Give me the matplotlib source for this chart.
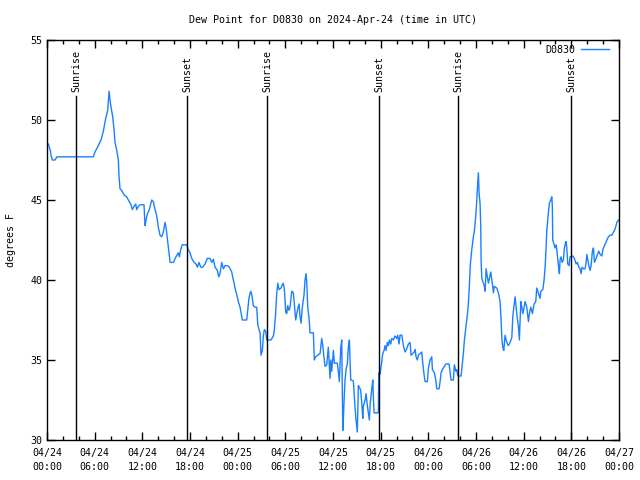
import matplotlib
matplotlib.use("Agg")
import matplotlib.pyplot as plt
from matplotlib.ticker import MultipleLocator

# hours since 2024-04-24 00:00 UTC
hours = [
    0.16, 0.29, 0.42, 0.50, 0.67, 1.01, 1.26, 5.83, 6.04, 6.46, 6.80, 7.09, 7.39, 7.64, 7.81, 7.93,
    8.06, 8.27, 8.44, 8.56, 8.78, 8.98, 9.06, 9.19, 9.40, 9.73, 10.03, 10.24, 10.58, 10.74, 10.95,
    11.17, 11.29, 11.49, 11.71, 12.21, 12.34, 12.46, 12.63, 12.88, 13.18, 13.38, 13.60, 13.81,
    14.01, 14.23, 14.44, 14.64, 14.86, 14.98, 15.15, 15.36, 15.49, 15.90, 16.24, 16.53, 16.66,
    16.83, 17.03, 17.59, 17.79, 18.00, 18.22, 18.51, 18.76, 18.92, 19.14, 19.35, 19.60, 19.89,
    20.18, 20.52, 20.74, 20.94, 21.15, 21.44, 21.62, 21.78, 21.99, 22.20, 22.41, 22.70, 22.95,
    23.25, 23.46, 23.67, 23.88, 24.08, 24.30, 24.51, 24.59, 25.14, 25.27, 25.43, 25.64, 25.77,
    25.97, 26.19, 26.40, 26.53, 26.69, 26.82, 26.94, 27.11, 27.23, 27.36, 27.53, 27.66, 28.20,
    28.49, 28.62, 28.79, 28.92, 29.05, 29.21, 29.46, 29.62, 29.75, 29.88, 30.05, 30.18, 30.30,
    30.47, 30.59, 30.81, 31.01, 31.13, 31.31, 31.44, 31.56, 31.73, 31.85, 31.98, 32.14, 32.36,
    32.48, 32.61, 32.70, 32.82, 32.99, 33.11, 33.53, 33.65, 33.83, 34.08, 34.37, 34.58, 34.71,
    34.79, 35.00, 35.21, 35.41, 35.63, 35.72, 35.84, 36.05, 36.17, 36.55, 36.67, 36.80, 36.98,
    37.10, 37.23, 37.30, 37.43, 37.52, 37.64, 37.81, 37.93, 38.06, 38.15, 38.23, 38.56, 38.65,
    38.78, 38.90, 39.06, 39.19, 39.32, 39.49, 39.62, 39.75, 39.82, 40.04, 40.16, 40.33, 40.45,
    40.58, 40.67, 40.88, 41.01, 41.08, 41.17, 41.71, 41.76, 41.92, 42.14, 42.26, 42.43, 42.55,
    42.68, 42.84, 42.97, 43.10, 43.27, 43.40, 43.60, 43.81, 44.03, 44.15, 44.32, 44.44, 44.66,
    44.86, 45.07, 45.28, 45.49, 45.70, 45.83, 46.04, 46.21, 46.33, 46.46, 46.62, 46.75, 46.96,
    47.17, 47.30, 47.46, 47.59, 47.88, 48.01, 48.13, 48.22, 48.43, 48.51, 48.76, 48.94, 49.06,
    49.35, 49.48, 49.60, 49.77, 50.02, 50.20, 50.61, 50.74, 50.86, 51.15, 51.28, 51.46, 51.58,
    51.71, 52.12, 52.29, 52.41, 52.54, 52.71, 52.88, 52.97, 53.04, 53.17, 53.29, 53.47, 53.67,
    53.80, 53.88, 54.01, 54.10, 54.17, 54.30, 54.39, 54.51, 54.60, 54.64, 54.73, 54.93, 55.06,
    55.15, 55.27, 55.40, 55.56, 55.69, 55.86, 55.99, 56.11, 56.19, 56.31, 56.62, 56.82, 57.03,
    57.16, 57.25, 57.37, 57.50, 57.66, 57.79, 57.95, 58.08, 58.29, 58.51, 58.63, 58.76, 58.92,
    59.05, 59.17, 59.34, 59.46, 59.64, 59.77, 59.89, 60.02, 60.18, 60.39, 60.60, 60.72, 60.90,
    61.10, 61.31, 61.52, 61.65, 61.85, 62.07, 62.16, 62.41, 62.57, 62.70, 62.82, 62.91, 63.11,
    63.24, 63.41, 63.54, 63.61, 63.66, 63.83, 63.95, 64.08, 64.17, 64.30, 64.42, 64.50, 64.58,
    64.71, 64.84, 65.00, 65.13, 65.25, 65.34, 65.43, 65.55, 65.72, 65.84, 66.18, 66.38, 66.60,
    66.76, 66.94, 67.10, 67.23, 67.36, 67.52, 67.73, 67.86, 67.95, 68.07, 68.20, 68.36, 68.49,
    68.65, 68.78, 68.91, 69.12, 69.28, 69.46, 69.62, 69.84, 69.96, 70.13, 70.29, 70.47, 70.67,
    70.88, 71.10, 71.31, 71.52, 71.73, 71.93,
]

dew_point = [
    48.5, 48.3, 48.1, 47.8, 47.5, 47.5, 47.7, 47.7, 48.0, 48.4, 48.75, 49.3, 50.1, 50.6, 51.8, 51.25,
    50.8, 50.2, 49.4, 48.6, 48.1, 47.5, 46.5, 45.7, 45.6, 45.3, 45.2, 45.0, 44.7, 44.4, 44.6,
    44.75, 44.4, 44.6, 44.7, 44.7, 43.4, 43.75, 44.1, 44.4, 45.0, 44.9, 44.4, 44.0,
    43.3, 42.8, 42.7, 43.0, 43.6, 43.3, 42.6, 41.7, 41.1, 41.1, 41.45, 41.7, 41.45,
    41.9, 42.2, 42.2, 41.9, 41.7, 41.35, 41.1, 41.0, 40.8, 41.1, 40.8, 40.8, 41.0,
    41.35, 41.35, 41.1, 41.3, 40.8, 40.6, 40.2, 40.4, 41.1, 40.7, 40.9, 40.9, 40.8,
    40.5, 40.0, 39.5, 39.1, 38.65, 38.3, 37.7, 37.5, 37.5, 38.1, 38.9, 39.3, 39.1,
    38.4, 38.3, 38.3, 37.2, 36.9, 36.7, 35.3, 35.6, 36.5, 36.9, 36.8, 36.25, 36.25,
    36.5, 36.9, 38.0, 39.2, 39.8, 39.4, 39.5, 39.7, 39.8, 39.4, 38.0, 37.9, 38.4,
    38.1, 38.3, 39.3, 39.2, 38.5, 37.5, 37.9, 38.2, 38.5, 37.7, 37.3, 38.3, 39.1,
    40.0, 40.4, 39.8, 38.3, 37.6, 36.7, 36.7, 35.0, 35.2, 35.3, 35.4, 36.35, 35.9,
    35.5, 34.6, 34.7, 35.8, 33.85, 35.0, 34.3, 35.6, 34.8, 34.8, 34.3, 33.65, 35.8,
    36.25, 30.6, 31.25, 32.9, 33.75, 34.4, 34.8, 35.8, 36.25, 35.0, 33.75, 33.7, 33.0,
    32.0, 31.25, 30.5, 33.4, 33.3, 33.1, 32.3, 31.35, 32.1, 32.5, 32.9, 32.1, 31.7,
    31.25, 32.2, 33.2, 33.75, 32.7, 31.7, 31.7, 34.2, 34.1, 34.9, 35.4, 35.6, 35.9,
    35.6, 36.1, 35.9, 36.25, 36.0, 36.35, 36.25, 36.5, 36.35, 36.55, 36.0, 36.55, 36.55,
    35.9, 35.5, 35.7, 36.0, 36.1, 35.3, 35.4, 35.5, 35.65, 35.2, 35.0, 35.3, 35.4,
    35.5, 34.8, 34.1, 33.65, 33.65, 34.5, 34.8, 35.0, 35.2, 34.4, 34.2, 33.75, 33.2,
    33.2, 33.65, 34.2, 34.4, 34.6, 34.75, 34.75, 34.2, 33.75, 33.75, 34.7, 34.3, 34.4,
    34.0, 34.0, 34.8, 35.4, 36.25, 36.95, 37.7, 38.1, 38.5, 39.7, 41.0, 41.9, 42.7,
    43.1, 43.5, 44.3, 45.0, 45.7, 46.7, 45.4, 44.8, 43.3, 41.25, 40.1, 39.8, 39.6,
    39.3, 40.7, 40.3, 39.8, 40.1, 40.5, 40.0, 39.6, 39.2, 39.6, 39.5, 39.2, 38.65,
    37.5, 36.35, 35.8, 35.6, 36.55, 36.25, 36.0, 35.9, 36.1, 36.4, 37.7, 38.3, 38.95,
    38.3, 37.7, 37.1, 36.25, 38.65, 38.3, 37.9, 38.2, 38.65, 38.3, 37.4, 37.9, 38.3,
    37.9, 38.5, 38.65, 39.5, 39.2, 38.85, 39.3, 39.4, 40.0, 40.8, 42.0, 43.1, 44.2,
    44.8, 45.0, 45.2, 44.6, 42.5, 42.2, 42.0, 42.2, 41.9, 41.25, 40.7, 40.4, 41.25,
    41.45, 41.1, 41.25, 42.0, 42.3, 42.4, 42.0, 41.0, 40.9, 41.45, 41.5, 41.35, 41.0,
    41.1, 40.8, 40.7, 40.4, 40.8, 40.7, 40.7, 41.1, 41.6, 41.25, 40.9, 40.6, 40.9,
    41.8, 42.0, 41.1, 41.35, 41.6, 41.8, 41.6, 41.5, 41.9, 42.1, 42.3, 42.5, 42.7,
    42.8, 42.8, 43.0, 43.2, 43.6, 43.75,
]

sun_events = ["Sunrise", "Sunset", "Sunrise", "Sunset", "Sunrise", "Sunset"]
sun_hours = [3.65, 17.66, 27.74, 41.84, 51.78, 66.01]

tick_hours = list(range(0, 73, 6))
tick_labels = [
    "04/24\n00:00", "04/24\n06:00", "04/24\n12:00", "04/24\n18:00",
    "04/25\n00:00", "04/25\n06:00", "04/25\n12:00", "04/25\n18:00",
    "04/26\n00:00", "04/26\n06:00", "04/26\n12:00", "04/26\n18:00",
    "04/27\n00:00",
]

plt.rcParams["font.family"] = ["DejaVu Sans Mono"]
plt.rcParams["font.size"] = 7.2

fig = plt.figure(figsize=(6.4, 4.8), dpi=100)
ax = fig.add_axes([47 / 640, 1 - 440 / 480, 572 / 640, 400 / 480])

ax.plot(hours, dew_point, color="#1a80ff", linewidth=1.0, label="D0830")

for name, h in zip(sun_events, sun_hours):
    ax.plot([h, h], [30, 51.5], color="black", linewidth=1.0)
    ax.text(h, 51.75, name, rotation=90, ha="center", va="bottom")

ax.set_xlim(0, 72)
ax.set_ylim(30, 55)
ax.set_xticks(tick_hours)
ax.set_xticklabels(tick_labels, linespacing=1.5)
ax.xaxis.set_minor_locator(MultipleLocator(2))
ax.yaxis.set_major_locator(MultipleLocator(5))
ax.tick_params(which="both", direction="in", top=True, right=True, width=1)
ax.tick_params(which="major", length=6)
ax.tick_params(which="minor", length=3)
ax.tick_params(axis="x", pad=6)
for s in ax.spines.values():
    s.set_linewidth(1)

ax.set_ylabel("degrees F", labelpad=10)
ax.set_title("Dew Point for D0830 on 2024-Apr-24 (time in UTC)", fontsize=7.2, pad=12)
ax.legend(loc="upper right", bbox_to_anchor=(1 - 5 / 572, 1.0), frameon=False,
          markerfirst=False, handlelength=2.8, handletextpad=0.6,
          borderaxespad=0, borderpad=0.5)

fig.savefig("out.png", dpi=100)
